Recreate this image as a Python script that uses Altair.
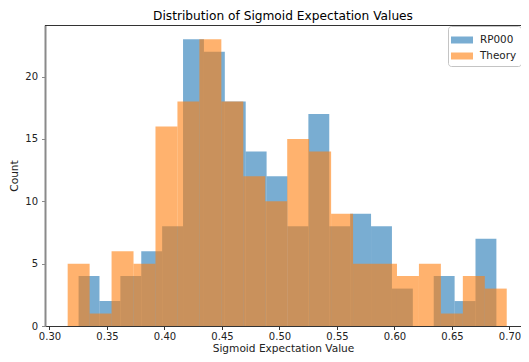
import altair as alt
import numpy as np
import pandas as pd

# Histogram data (20 bins per series)
series_names = ["RP000", "Theory"]
rp000_range = [0.3253, 0.6886]
theory_range = [0.3158, 0.6976]
rp000_counts = [4, 2, 4, 6, 8, 23, 22, 18, 14, 12, 8, 17, 8, 9, 8, 3, 0, 4, 2, 7]
theory_counts = [5, 1, 6, 5, 16, 18, 23, 18, 12, 10, 15, 14, 9, 5, 5, 4, 5, 1, 4, 3]
x_ticks = [0.30, 0.35, 0.40, 0.45, 0.50, 0.55, 0.60, 0.65, 0.70]
y_ticks = [0, 5, 10, 15, 20]
colors = ["#1f77b4", "#ff7f0e"]

rows = []
for name, rng, counts in [("RP000", rp000_range, rp000_counts),
                          ("Theory", theory_range, theory_counts)]:
    edges = np.linspace(rng[0], rng[1], len(counts) + 1)
    for i, c in enumerate(counts):
        rows.append({"series": name, "x0": edges[i], "x1": edges[i + 1], "count": c})
df = pd.DataFrame(rows)

W, H = 476, 301
font = "DejaVu Sans"
legend_shape = "M-1.1,-0.35L1.1,-0.35L1.1,0.35L-1.1,0.35Z"

bars = alt.Chart(df).mark_bar(opacity=0.6, strokeWidth=0).encode(
    x=alt.X("x0:Q",
            scale=alt.Scale(domain=[0.29609, 0.71], nice=False, zero=False),
            axis=alt.Axis(values=x_ticks, format=".2f", title="Sigmoid Expectation Value",
                          domainColor="#333", tickColor="#333", titlePadding=1.5,
                          labelPadding=2)),
    x2="x1:Q",
    y=alt.Y("count:Q", stack=None,
            scale=alt.Scale(domain=[0, 24.14], nice=False),
            axis=alt.Axis(values=y_ticks, title="Count", domainColor="#8a8a8a",
                          domainWidth=2, tickColor="#8a8a8a", titlePadding=5.5,
                          labelPadding=4)),
    y2=alt.datum(0),
    color=alt.Color("series:N",
                    scale=alt.Scale(domain=series_names, range=colors),
                    legend=alt.Legend(title=None, orient="none", legendX=403, legendY=1,
                                      symbolType=legend_shape, symbolSize=400,
                                      symbolOpacity=0.6, symbolStrokeWidth=0,
                                      labelFontSize=10.4, labelFont=font, labelColor="#222",
                                      strokeColor="#c4c4c4", fillColor="white",
                                      padding=4, cornerRadius=3, rowPadding=-4.3,
                                      labelOffset=8)),
    order=alt.Order("series:N"),
)

top_line = alt.Chart(pd.DataFrame({"k": [0]})).mark_rule(
    color="#333", strokeWidth=1
).encode(x=alt.value(0), x2=alt.value(W), y=alt.value(0.5))

chart = alt.layer(bars, top_line).properties(
    width=W,
    height=H,
    title=alt.TitleParams("Distribution of Sigmoid Expectation Values",
                          font=font, fontSize=12.2, fontWeight="normal",
                          color="black", offset=3),
    autosize=alt.AutoSizeParams(type="none"),
    padding={"left": 37, "top": 17, "right": 0, "bottom": 28},
).configure_view(
    stroke=None
).configure_axis(
    grid=False, tickSize=3.5,
    labelFont=font, labelFontSize=10, labelColor="#222",
    titleFont=font, titleFontSize=10.6, titleFontWeight="normal", titleColor="#222",
)

chart.save("out.html", embed_options={"renderer": "svg", "actions": False})
